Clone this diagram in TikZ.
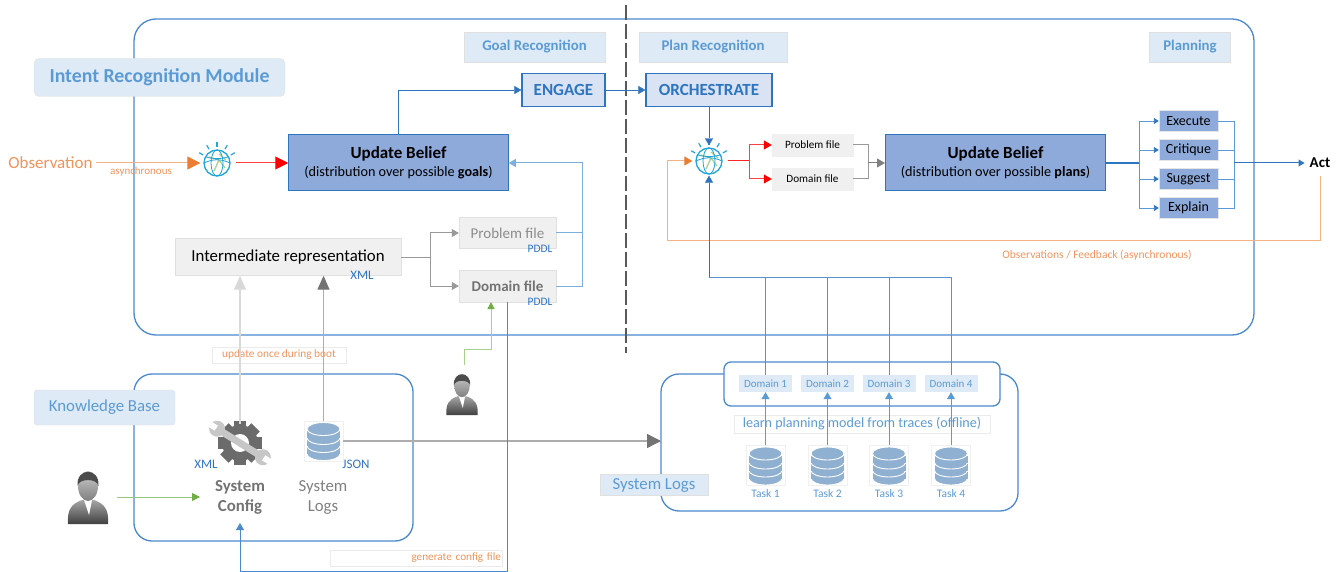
\documentclass[tikz,border=0pt]{standalone}
\usepackage{fontspec}
\setmainfont{Carlito}
\usetikzlibrary{arrows.meta}

\definecolor{frameblue}{HTML}{4A89CC}
\definecolor{deepblue}{HTML}{2E75C0}
\definecolor{lineblue}{HTML}{5B9BD5}
\definecolor{paleblue}{HTML}{DEEAF6}
\definecolor{beliefblue}{HTML}{8EAADB}
\definecolor{engageblue}{HTML}{DAE3F3}
\definecolor{dbblue}{HTML}{8FB0D0}
\definecolor{softorange}{HTML}{F4B183}
\definecolor{textorange}{HTML}{F0945A}
\definecolor{tiporange}{HTML}{ED7D31}
\definecolor{softgreen}{HTML}{A9D18E}
\definecolor{tipgreen}{HTML}{70AD47}
\definecolor{watsonblue}{HTML}{1FA5DA}

\tikzset{
  framebox/.style={draw=frameblue,line width=1.3pt,rounded corners=#1},
  tagbox/.style={fill=paleblue,draw=black!12,text=lineblue,inner sep=0pt},
  filebox/.style={fill=black!6,draw=black!12,inner sep=0pt},
  beliefbox/.style={fill=beliefblue,draw=deepblue,line width=1pt,align=center,inner sep=0pt},
  modebox/.style={fill=engageblue,draw=deepblue,line width=1.3pt,text=deepblue,inner sep=0pt,font=\fontsize{17}{19}\selectfont\bfseries},
  actbox/.style={fill=beliefblue,draw=black!10,inner sep=0pt,minimum width=59pt,minimum height=21pt,font=\fontsize{14}{15}\selectfont},
  notebox/.style={fill=white,fill opacity=.6,text opacity=1,draw=black!8,inner sep=0pt},
  domainbox/.style={fill=paleblue,text=lineblue,inner sep=0pt,minimum width=53pt,minimum height=17pt,font=\fontsize{11}{13}\selectfont},
  dbbox/.style={draw=black!6,fill=white,inner sep=0pt,minimum width=39pt,minimum height=40pt},
  globe/.style={circle,draw=watsonblue,line width=1.3pt,fill=white,inner sep=0pt,minimum size=26pt},
  smalltip/.style={-{Triangle[length=7pt,width=8pt]}},
  bigtip/.style={-{Triangle[length=13pt,width=13pt]}}
}

% watson globe: name, x, y
\newcommand{\watsonglobe}[3]{
  \node[globe] (#1) at (#2,#3) {};
  \begin{scope}[shift={(#2,#3)}]
    \draw[softgreen,line width=1.3pt] (-8,-6) -- (2,-3) -- (8,5) (2,-3) -- (-3,8) (2,-9) -- (9,-3);
    \draw[watsonblue,line width=.8pt] (0,0) ellipse (6 and 13);
    \draw[watsonblue,line width=.8pt] (-13,0) to[bend left=25] (13,0);
    \draw[watsonblue,line width=.8pt] (-11,-6) to[bend right=15] (11,-6);
    \foreach \a in {30,60,90,120,150}
      \draw[watsonblue,line width=1.2pt] (\a:-16) -- (\a:-20.5);
  \end{scope}
}
% database icon: name, x, y
\newcommand{\dbicon}[3]{
  \node[dbbox] (#1) at (#2,#3) {};
  \begin{scope}[shift={(#2,#3)}]
    \foreach \y in {13,5,-3}{
      \draw[fill=dbblue,draw=white,line width=.9pt] (0,\y) ellipse (16.5 and 6.5);
      \fill[dbblue] (-16.5,\y-7) rectangle (16.5,\y);
    }
    \draw[fill=dbblue,draw=white,line width=.9pt] (0,-12) ellipse (16.5 and 6.5);
  \end{scope}
}
% user icon: name, x, y, scale
\newcommand{\usericon}[4]{
  \coordinate (#1) at (#2,#3);
  \begin{scope}[shift={(#2,#3)},scale=#4]
    \shade[top color=black!35,bottom color=black!75] (-20,27) .. controls (-21,13) and (-17,7) .. (-6,3)
      -- (6,3) .. controls (17,7) and (21,13) .. (20,27) -- cycle;
    \fill[white] (-4,3) -- (4,3) -- (1,18) -- cycle;
    \shade[top color=black!20,bottom color=black!50] (0,-11) ellipse (10 and 15);
    \fill[black!70] (-10.5,-11) .. controls (-12,-30) and (12,-30) .. (10.5,-11)
      .. controls (9,-19) and (-9,-19) .. (-10.5,-11) -- cycle;
  \end{scope}
}

\begin{document}
\begin{tikzpicture}[x=1pt,y=-1pt]
    \useasboundingbox (0,0) rectangle (1344,572);

    % outer frames
    \draw[framebox=22pt] (134,19) rectangle (1254,335);
    \draw[framebox=18pt] (134,374) rectangle (413,541);
    \draw[framebox=18pt] (661,374) rectangle (1018,511);
    \draw[framebox=7pt,fill=white] (724,362) rectangle (1000,406);
    \coordinate (splittop) at (626,5);
    \coordinate (splitend) at (626,353);
    \draw[black!65,line width=1.5pt,dash pattern=on 15pt off 4pt] (splittop) -- (splitend);

    \node[tagbox,rounded corners=5pt,minimum width=251pt,minimum height=38pt,font=\fontsize{19.8}{21}\selectfont\bfseries] (intentlabel) at (159.5,77.5) {Intent Recognition Module};
    \node[tagbox,minimum width=141pt,minimum height=30pt,font=\fontsize{14.8}{16}\selectfont\bfseries] (goallabel) at (534.5,47) {Goal Recognition};
    \node[tagbox,minimum width=148pt,minimum height=30pt,font=\fontsize{14.8}{16}\selectfont\bfseries] (planlabel) at (713,47) {Plan Recognition};
    \node[tagbox,minimum width=81pt,minimum height=30pt,font=\fontsize{14.8}{16}\selectfont\bfseries] (planninglabel) at (1190,47) {Planning};
    \node[tagbox,rounded corners=3pt,minimum width=141pt,minimum height=35pt,font=\fontsize{16.8}{18}\selectfont] (kblabel) at (104.5,407.5) {Knowledge Base};
    \node[tagbox,minimum width=108pt,minimum height=21pt,font=\fontsize{16.8}{18}\selectfont] (logslabel) at (654,485) {System Logs};

    % goal recognition side
    \node[modebox,minimum width=83pt,minimum height=33pt] (engage) at (563.5,90) {ENGAGE};
    \node[modebox,minimum width=126pt,minimum height=33pt] (orchestrate) at (709,90) {ORCHESTRATE};
    \node[beliefbox,minimum width=219.5pt,minimum height=56pt] (beliefgoal) at (398.5,163) {{\fontsize{17}{20}\selectfont\bfseries Update Belief}\\[4pt]{\fontsize{14.2}{16}\selectfont (distribution over possible \textbf{goals})}};
    \watsonglobe{watsona}{217}{163}
    \node[text=textorange,inner sep=0pt,font=\fontsize{17}{19}\selectfont] (observation) at (50.5,163) {Observation};
    \node[text=textorange,inner sep=0pt,font=\fontsize{11}{13}\selectfont] (asyncnote) at (141,172) {asynchronous};
    \node[filebox,minimum width=226pt,minimum height=37pt,font=\fontsize{16.8}{18}\selectfont] (interm) at (288,257) {Intermediate representation};
    \node[text=deepblue,inner sep=0pt,font=\fontsize{13}{15}\selectfont] (xmlinterm) at (362,275) {XML};
    \node[filebox,text=black!45,minimum width=97pt,minimum height=31pt,font=\fontsize{15}{17}\selectfont] (problemgoal) at (507.5,233) {Problem file};
    \node[filebox,text=black!55,minimum width=97pt,minimum height=32pt,font=\fontsize{15}{17}\selectfont\bfseries] (domaingoal) at (507.5,286) {Domain file};
    \node[text=deepblue,inner sep=0pt,font=\fontsize{11.4}{12}\selectfont] (pddla) at (540,249) {PDDL};
    \node[text=deepblue,inner sep=0pt,font=\fontsize{11.4}{12}\selectfont] (pddlb) at (540,302) {PDDL};

    \draw[deepblue,smalltip] (beliefgoal.north) |- (engage.west);
    \draw[deepblue,smalltip] (engage.east) -- (orchestrate.west);
    \draw[softorange,line width=1pt,-{Triangle[length=13pt,width=13pt,color=tiporange]},shorten <=3pt,shorten >=3pt] (observation.east) -- (watsona.west);
    \draw[red!75,line width=1pt,-{Triangle[length=13pt,width=13pt,color=red]},shorten <=5pt] (watsona.east) -- (beliefgoal.west);
    \coordinate (forka) at (430,257);
    \draw[black!40,line width=1pt] (interm.east) -- (forka);
    \draw[black!40,line width=1pt,smalltip] (forka) |- (problemgoal.west);
    \draw[black!40,line width=1pt,smalltip] (forka) |- (domaingoal.west);
    \coordinate (feedbus) at (582,163);
    \draw[lineblue!80,line width=1pt,smalltip] (problemgoal.east) -| (feedbus) -- (beliefgoal.east);
    \draw[lineblue!80,line width=1pt] (domaingoal.east) -| (feedbus);

    % plan recognition side
    \watsonglobe{watsonb}{709}{161}
    \node[filebox,draw=black!6,minimum width=81pt,minimum height=22pt,font=\fontsize{11.2}{13}\selectfont] (problemplan) at (812.5,145) {Problem file};
    \node[filebox,draw=black!6,minimum width=81pt,minimum height=22pt,font=\fontsize{11.2}{13}\selectfont] (domainplan) at (812.5,179) {Domain file};
    \node[beliefbox,minimum width=220pt,minimum height=56pt] (beliefplan) at (995.5,163) {{\fontsize{17}{20}\selectfont\bfseries Update Belief}\\[4pt]{\fontsize{14.2}{16}\selectfont (distribution over possible \textbf{plans})}};
    \node[actbox] (execute) at (1188.5,121) {Execute};
    \node[actbox] (critique) at (1188.5,150) {Critique};
    \node[actbox] (suggest) at (1188.5,179) {Suggest};
    \node[actbox] (explain) at (1188.5,208) {Explain};
    \node[inner sep=0pt,font=\fontsize{15}{17}\selectfont\bfseries] (act) at (1320,163) {Act};
    \node[text=textorange,inner sep=0pt,font=\fontsize{11.5}{13}\selectfont] (feedbacknote) at (1097,255) {Observations / Feedback (asynchronous)};

    \draw[deepblue,smalltip,shorten >=2pt] (orchestrate.south) -- (watsonb.north);
    \coordinate (redfork) at (749,161);
    \draw[red!85,line width=1pt,shorten <=5pt] (watsonb.east) -- (redfork);
    \draw[red!75,line width=1pt,-{Triangle[length=8pt,width=9pt,color=red]}] (redfork) |- (problemplan.west);
    \draw[red!75,line width=1pt,-{Triangle[length=8pt,width=9pt,color=red]}] (redfork) |- (domainplan.west);
    \coordinate (grayfork) at (868,163);
    \draw[black!40,line width=1pt] (problemplan.east) -| (grayfork) (domainplan.east) -| (grayfork);
    \draw[black!50,line width=1pt,-{Triangle[length=8pt,width=9pt]}] (grayfork) -- (beliefplan.west);
    \coordinate (busin) at (1139,163);
    \coordinate (busout) at (1234,163);
    \draw[deepblue,line width=1.2pt] (beliefplan.east) -- (busin);
    \foreach \act in {execute,critique,suggest,explain}{
      \draw[lineblue,line width=.9pt,-{Triangle[length=5pt,width=6pt,color=deepblue]}] (busin) |- (\act.west);
      \draw[lineblue,line width=.9pt] (\act.east) -| (busout);
    }
    \draw[deepblue,line width=1pt,-{Triangle[length=6pt,width=7pt]},shorten >=5pt] (busout) -- (act.west);
    \coordinate (feedturn) at (667,241);
    \draw[softorange,line width=1pt,-{Triangle[length=8pt,width=9pt,color=tiporange]},shorten <=8pt,shorten >=3pt] (act.south) |- (feedturn) |- (watsonb.west);

    % knowledge base
    \coordinate (gear) at (240,443);
    \foreach \a in {0,45,...,315}
      \fill[black!58,rotate around={\a:(gear)}] (234,421) rectangle (246,428);
    \fill[black!58] (gear) circle (18);
    \fill[white] (gear) circle (9);
    \begin{scope}[shift={(gear)},rotate=-32]
      \draw[black!22,line width=7pt] (-25,0) -- (25,0);
      \fill[black!22] (-27,0) circle (8) (27,0) circle (8);
      \fill[white] (-37,-3) rectangle (-28,3) (28,-3) rectangle (37,3);
    \end{scope}
    \node[inner sep=0pt,minimum size=38pt] (gearnode) at (gear) {};
    \dbicon{logsdb}{323.5}{441}
    \node[text=deepblue,inner sep=0pt,font=\fontsize{13}{15}\selectfont] (xmlconfig) at (206,464) {XML};
    \node[text=deepblue,inner sep=0pt,font=\fontsize{13}{15}\selectfont] (jsonlogs) at (356,464) {JSON};
    \node[text=black!55,align=center,inner sep=0pt,font=\fontsize{16.8}{20}\selectfont\bfseries] (sysconfig) at (240,497) {System\\Config};
    \node[text=black!50,align=center,inner sep=0pt,font=\fontsize{16.8}{20}\selectfont] (syslogs) at (323,497) {System\\Logs};
    \usericon{userleft}{88}{497}{1}
    \usericon{usertop}{462}{394}{.78}
    \coordinate (userleftout) at (117,497);
    \coordinate (configin) at (200,497);
    \draw[tipgreen!70,line width=1pt,-{Triangle[length=8pt,width=8pt,color=tipgreen]}] (userleftout) -- (configin);
    \coordinate (usertopout) at (464,365);
    \coordinate (greenbend) at (491,349);
    \coordinate (domainin) at (491,302);
    \draw[softgreen,line width=1pt,-{Triangle[length=7pt,width=7pt,color=tipgreen]}] (usertopout) |- (greenbend) -- (domainin);

    \node[notebox,minimum width=134pt,minimum height=16pt,text=textorange,font=\fontsize{11.3}{13}\selectfont] (bootnote) at (279,355) {update once during boot};
    \draw[black!15,line width=1.4pt,-{Triangle[length=14pt,width=12pt,color=black!15]}] (gearnode.north) -- (gearnode.north |- interm.south);
    \draw[black!32,line width=1.4pt,-{Triangle[length=14pt,width=12pt,color=black!55]}] (logsdb.north) -- (logsdb.north |- interm.south);
    \draw[black!32,line width=1.3pt,-{Triangle[length=14pt,width=14pt,color=black!55]}] (logsdb.east) -- (661,441);

    % generated config goes back
    \node[notebox,minimum width=172pt,minimum height=16pt,text=textorange,font=\fontsize{11.2}{13}\selectfont,align=right,text width=170pt] (confignote) at (416,558) {generate config file};
    \coordinate (configturn) at (240,571);
    \coordinate (configend) at (240,523);
    \draw[deepblue!85,smalltip] (domaingoal.south) |- (configturn) -- (configend);

    % system logs
    \node[notebox,minimum width=256pt,minimum height=18pt,text=lineblue,font=\fontsize{14.1}{16}\selectfont] (learnnote) at (862,424) {learn planning model from traces (offline)};
    \foreach \i/\x in {1/765.5,2/827.5,3/889,4/951}{
      \node[domainbox] (domain\i) at (\x,383.5) {Domain \i};
      \dbicon{taskdb\i}{\x}{465.5}
      \node[text=lineblue,inner sep=0pt,font=\fontsize{11.5}{13}\selectfont] (task\i) at (\x,494) {Task \i};
      \draw[lineblue,line width=1pt,smalltip] (taskdb\i.north) -- (domain\i.south);
    }
    \coordinate (busend) at (709,277);
    \draw[deepblue!80] (domain4.north) |- (busend);
    \foreach \i in {1,2,3}
      \draw[deepblue!80] (domain\i.north) -- (domain\i.north |- busend);
    \draw[deepblue,smalltip,shorten >=1pt] (busend) -- (watsonb.south);
  \end{tikzpicture}
\end{document}
